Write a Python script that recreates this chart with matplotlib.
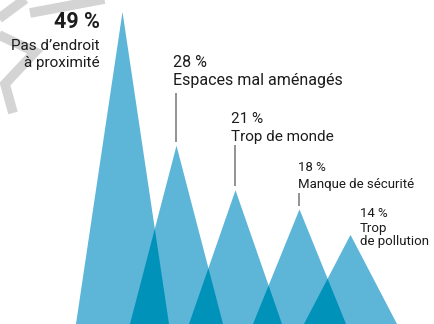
import matplotlib.pyplot as plt
from matplotlib.patches import Polygon
from matplotlib.lines import Line2D

# survey shares (%) and their labels
values = [49, 28, 21, 18, 14]
pct_labels = ["49 %", "28 %", "21 %", "18 %", "14 %"]
names = [["Pas d\u2019endroit", "à proximité"], ["Espaces mal aménagés"],
         ["Trop de monde"], ["Manque de sécurité"], ["Trop", "de pollution"]]

W, H = 435, 324
px_per_pct = 312 / 49
centers = [122.5, 176.5, 235.5, 299.5, 350.5]
half = 46.5

light = "#5db5d8"
dark = "#0092b9"
ink = "#1c1c1c"
font = ["Liberation Sans Narrow", "Roboto", "DejaVu Sans"]

fig = plt.figure(figsize=(W / 100, H / 100), dpi=100)
ax = fig.add_axes([0, 0, 1, 1])
ax.set_xlim(0, W)
ax.set_ylim(0, H / px_per_pct)
ax.axis("off")


def fx(x):
    return x / W


def fy(y):
    return 1 - y / H


# grey ribbon in the upper-left corner
for pts in [[(115, -3), (30, 13)],
            [(28, -3), (-3, 20)],
            [(-3, 34), (35, 52), (5, 84), (13, 113)]]:
    fig.add_artist(Line2D([fx(p[0]) for p in pts], [fy(p[1]) for p in pts],
                          color="#d4d4d4", lw=7, solid_capstyle="butt",
                          solid_joinstyle="miter", zorder=0))

# one triangle per answer, height = share
for c, v in zip(centers, values):
    ax.add_patch(Polygon([(c - half, 0), (c, v), (c + half, 0)],
                         closed=True, color=light, lw=0, zorder=1))

# darker zone where neighbouring triangles overlap
for i in range(len(values) - 1):
    v0, v1 = values[i], values[i + 1]
    r0 = centers[i] + half
    l1 = centers[i + 1] - half
    xm = (v0 * r0 + v1 * l1) / (v0 + v1)
    ym = v0 * (r0 - xm) / half
    ax.add_patch(Polygon([(l1, 0), (xm, ym), (r0, 0)],
                         closed=True, color=dark, lw=0, zorder=2))

# labels: (x, anchor, baseline of % line, baselines of text lines, size)
label_pos = [(100, "right", 28, [50, 67], 11),
             (173, "left", 67, [85], 11.5),
             (231, "left", 123, [141], 11),
             (298, "left", 171, [188], 9.5),
             (360, "left", 217, [232, 245], 9.5)]
for i, (x, ha, yp, ybs, fs) in enumerate(label_pos):
    if i == 0:
        fig.text(fx(x), fy(yp), pct_labels[i], ha=ha, va="baseline",
                 fontsize=15.5, fontweight="bold", color=ink, family=font)
    else:
        fig.text(fx(x), fy(yp), pct_labels[i], ha=ha, va="baseline",
                 fontsize=fs, color=ink, family=font)
    for yb, line in zip(ybs, names[i]):
        fig.text(fx(x), fy(yb), line, ha=ha, va="baseline",
                 fontsize=fs, color=ink, family=font)

# leader lines from label to peak
leader_tops = [93, 145, 193]
for c, v, t in zip(centers[1:4], values[1:4], leader_tops):
    ax.plot([c, c], [v + 0.6, (H - t) / px_per_pct], color="#8a8a8a", lw=1.3,
            solid_capstyle="butt", zorder=3)

fig.savefig("out.png", dpi=100)
